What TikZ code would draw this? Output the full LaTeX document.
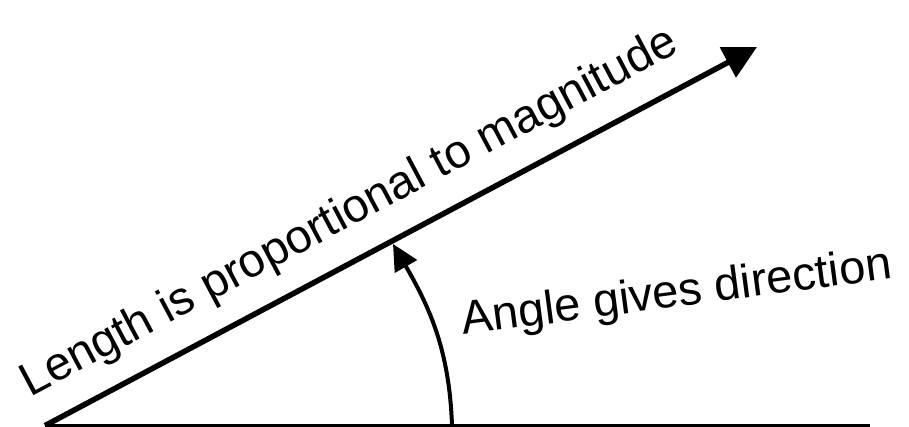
\documentclass[tikz,border=0pt]{standalone}
\usepackage{fontspec}
\setmainfont{Liberation Sans}
\usetikzlibrary{arrows.meta,calc}

\begin{document}
\begin{tikzpicture}[
    x=1pt, y=1pt,
    axisline/.style={line width=2.7pt},
    vector/.style={line width=5.5pt, -{Triangle[length=33pt,width=33pt]}},
    anglearrow/.style={line width=4pt, -{Triangle[length=26pt,width=25pt]}},
    vtext/.style={inner sep=0pt, font=\fontsize{47}{56}\selectfont}
]
\useasboundingbox (0,0) rectangle (909,427);

% Points
\coordinate (origin) at (45,1.4);
\coordinate (tip) at (757,380);
\coordinate (axisend) at (870,1.4);
\coordinate (arcstart) at (452,1.4);
\coordinate (arcend) at (393,183);

% Axis, vector and angle
\draw[axisline] (origin) -- (axisend);
\draw[vector] (origin) -- (tip);
\draw[anglearrow] (arcstart) to[out=92, in=-60] (arcend);

% Labels
\node[vtext, rotate=28, anchor=base west] (lenlabel) at ($(origin)+(118:32)$) {Length is proportional to magnitude};
\node[vtext, rotate=7.5, anchor=base west] (anglabel) at (463,92) {Angle gives direction};

\end{tikzpicture}
\end{document}
